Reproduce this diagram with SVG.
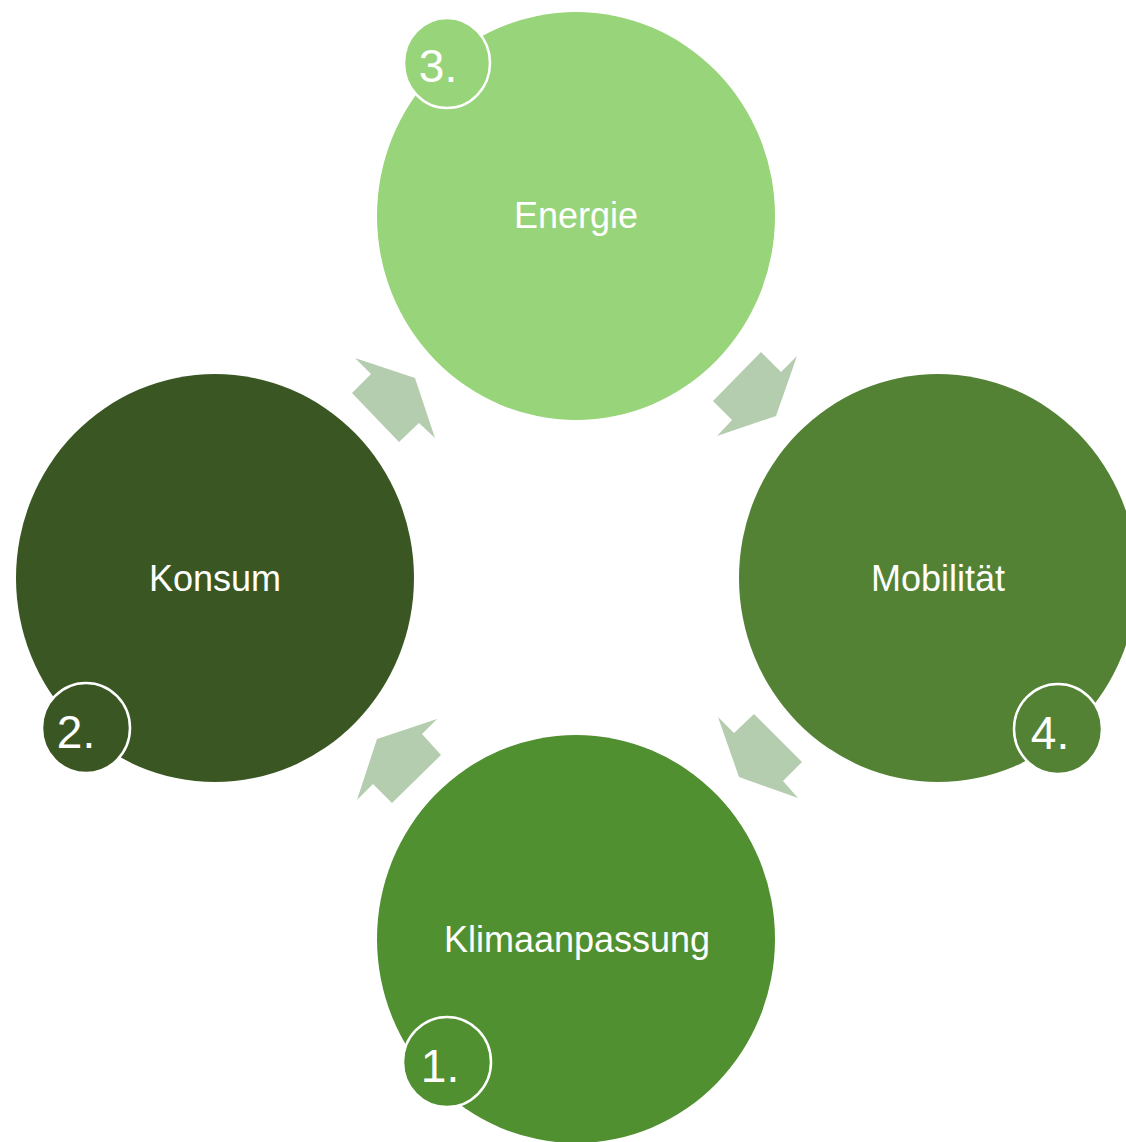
<svg xmlns="http://www.w3.org/2000/svg" width="1126" height="1142" viewBox="0 0 1126 1142">
<style>
.lbl{font-family:"Liberation Sans",Arial,sans-serif;font-size:36px;fill:#fff;text-anchor:middle}
.num{font-family:"Liberation Sans",Arial,sans-serif;font-size:46px;fill:#fff;text-anchor:middle}
.badge{stroke:#fff;stroke-width:2.5}
.arr{fill:#b5cdaf}
</style>
<rect width="1126" height="1142" fill="#fff"/>
<g id="connectors">
<polygon class="arr" points="355,358 415,378 435,438 419,423 399,442 352,393 371,374"/>
<polygon class="arr" points="761,352 781,372 797,356 776,416 717,436 732,420 713,401"/>
<polygon class="arr" points="718,717 734,733 754,714 802,762 783,781 798,798 739,777"/>
<polygon class="arr" points="437,719 377,739 357,800 373,784 392,803 441,755 422,734"/>
</g>
<g id="energie">
<ellipse cx="576" cy="216" rx="199" ry="204" fill="#98d479"/>
<text class="lbl" x="576" y="228">Energie</text>
<ellipse class="badge" cx="447" cy="63" rx="43" ry="45" fill="#98d479"/>
<text class="num" x="438" y="82">3.</text>
</g>
<g id="konsum">
<ellipse cx="215" cy="578" rx="199" ry="204" fill="#3a5723"/>
<text class="lbl" x="215" y="591">Konsum</text>
<ellipse class="badge" cx="86" cy="728" rx="44" ry="45" fill="#3a5723"/>
<text class="num" x="76" y="748">2.</text>
</g>
<g id="mobilitaet">
<ellipse cx="938" cy="578" rx="199" ry="204" fill="#548235"/>
<text class="lbl" x="938" y="591">Mobilität</text>
<ellipse class="badge" cx="1058" cy="729" rx="44" ry="45" fill="#548235"/>
<text class="num" x="1050" y="749">4.</text>
</g>
<g id="klimaanpassung">
<ellipse cx="576" cy="939" rx="199" ry="204" fill="#509030"/>
<text class="lbl" x="577" y="952">Klimaanpassung</text>
<ellipse class="badge" cx="447" cy="1062" rx="44" ry="45" fill="#509030"/>
<text class="num" x="440" y="1082">1.</text>
</g>
</svg>
